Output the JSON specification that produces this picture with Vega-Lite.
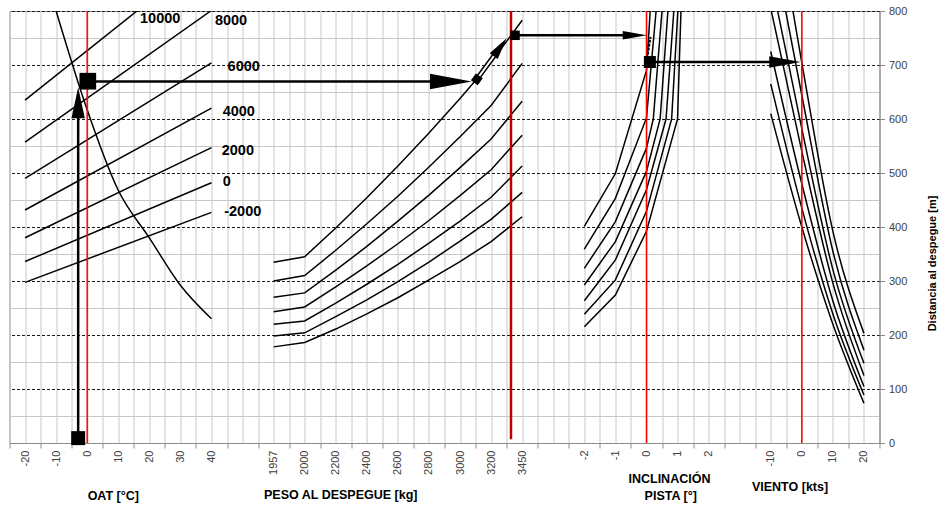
{
  "$schema": "https://vega.github.io/schema/vega-lite/v6.json",
  "width": 870,
  "height": 432,
  "autosize": {"type": "none"},
  "padding": {"left": 9.5, "top": 11, "right": 65.5, "bottom": 68},
  "background": "white",
  "config": {"view": {"stroke": "#8c8c8c", "strokeWidth": 1}, "font": "Liberation Sans"},
  "datasets": {
    "lin": [
      {"id": "a10000", "x": 0, "y": 635}, {"id": "a10000", "x": 6, "y": 910},
      {"id": "a8000", "x": 0, "y": 557}, {"id": "a8000", "x": 6, "y": 801},
      {"id": "a6000", "x": 0, "y": 490}, {"id": "a6000", "x": 6, "y": 704},
      {"id": "a4000", "x": 0, "y": 431.5}, {"id": "a4000", "x": 6, "y": 620},
      {"id": "a2000", "x": 0, "y": 380}, {"id": "a2000", "x": 6, "y": 547},
      {"id": "a0", "x": 0, "y": 336}, {"id": "a0", "x": 6, "y": 482},
      {"id": "am2000", "x": 0, "y": 297.5}, {"id": "am2000", "x": 6, "y": 427},
      {"id": "w1", "x": 8, "y": 334.6}, {"id": "w1", "x": 9, "y": 345}, {"id": "w1", "x": 10, "y": 398}, {"id": "w1", "x": 11, "y": 454}, {"id": "w1", "x": 12, "y": 513}, {"id": "w1", "x": 13, "y": 574}, {"id": "w1", "x": 14, "y": 638}, {"id": "w1", "x": 15, "y": 705}, {"id": "w1", "x": 16, "y": 783},
      {"id": "w2", "x": 8, "y": 300}, {"id": "w2", "x": 9, "y": 310}, {"id": "w2", "x": 10, "y": 357}, {"id": "w2", "x": 11, "y": 406}, {"id": "w2", "x": 12, "y": 457}, {"id": "w2", "x": 13, "y": 511}, {"id": "w2", "x": 14, "y": 567}, {"id": "w2", "x": 15, "y": 625}, {"id": "w2", "x": 16, "y": 703},
      {"id": "w3", "x": 8, "y": 270}, {"id": "w3", "x": 9, "y": 278}, {"id": "w3", "x": 10, "y": 320}, {"id": "w3", "x": 11, "y": 364}, {"id": "w3", "x": 12, "y": 411}, {"id": "w3", "x": 13, "y": 459}, {"id": "w3", "x": 14, "y": 510}, {"id": "w3", "x": 15, "y": 563}, {"id": "w3", "x": 16, "y": 633},
      {"id": "w4", "x": 8, "y": 243}, {"id": "w4", "x": 9, "y": 252}, {"id": "w4", "x": 10, "y": 289}, {"id": "w4", "x": 11, "y": 328}, {"id": "w4", "x": 12, "y": 369}, {"id": "w4", "x": 13, "y": 412}, {"id": "w4", "x": 14, "y": 458}, {"id": "w4", "x": 15, "y": 506}, {"id": "w4", "x": 16, "y": 570},
      {"id": "w5", "x": 8, "y": 220}, {"id": "w5", "x": 9, "y": 226}, {"id": "w5", "x": 10, "y": 259}, {"id": "w5", "x": 11, "y": 294}, {"id": "w5", "x": 12, "y": 331}, {"id": "w5", "x": 13, "y": 370}, {"id": "w5", "x": 14, "y": 411}, {"id": "w5", "x": 15, "y": 455}, {"id": "w5", "x": 16, "y": 513},
      {"id": "w6", "x": 8, "y": 198}, {"id": "w6", "x": 9, "y": 204}, {"id": "w6", "x": 10, "y": 234}, {"id": "w6", "x": 11, "y": 265}, {"id": "w6", "x": 12, "y": 299}, {"id": "w6", "x": 13, "y": 335}, {"id": "w6", "x": 14, "y": 374}, {"id": "w6", "x": 15, "y": 414}, {"id": "w6", "x": 16, "y": 464},
      {"id": "w7", "x": 8, "y": 178}, {"id": "w7", "x": 9, "y": 186}, {"id": "w7", "x": 10, "y": 211}, {"id": "w7", "x": 11, "y": 239}, {"id": "w7", "x": 12, "y": 269}, {"id": "w7", "x": 13, "y": 302}, {"id": "w7", "x": 14, "y": 336}, {"id": "w7", "x": 15, "y": 373}, {"id": "w7", "x": 16, "y": 419},
      {"id": "s1", "x": 18, "y": 401}, {"id": "s1", "x": 19, "y": 499}, {"id": "s1", "x": 20, "y": 690}, {"id": "s1", "x": 20.12, "y": 800},
      {"id": "s2", "x": 18, "y": 359}, {"id": "s2", "x": 19, "y": 453}, {"id": "s2", "x": 20, "y": 602}, {"id": "s2", "x": 20.31, "y": 800},
      {"id": "s3", "x": 18, "y": 323.5}, {"id": "s3", "x": 19, "y": 410}, {"id": "s3", "x": 20, "y": 546}, {"id": "s3", "x": 20.22, "y": 600}, {"id": "s3", "x": 20.5, "y": 800},
      {"id": "s4", "x": 18, "y": 292.6}, {"id": "s4", "x": 19, "y": 373}, {"id": "s4", "x": 20, "y": 503}, {"id": "s4", "x": 20.44, "y": 600}, {"id": "s4", "x": 20.69, "y": 800},
      {"id": "s5", "x": 18, "y": 263.5}, {"id": "s5", "x": 19, "y": 339}, {"id": "s5", "x": 20, "y": 469}, {"id": "s5", "x": 20.63, "y": 600}, {"id": "s5", "x": 20.88, "y": 800},
      {"id": "s6", "x": 18, "y": 238.3}, {"id": "s6", "x": 19, "y": 302}, {"id": "s6", "x": 20, "y": 429}, {"id": "s6", "x": 20.81, "y": 600}, {"id": "s6", "x": 21.01, "y": 800},
      {"id": "s7", "x": 18, "y": 215.4}, {"id": "s7", "x": 19, "y": 274}, {"id": "s7", "x": 20, "y": 392}, {"id": "s7", "x": 21, "y": 600}, {"id": "s7", "x": 21.11, "y": 800}
    ],
    "smooth": [
      {"id": "t", "x": 1, "y": 800}, {"id": "t", "x": 2, "y": 617}, {"id": "t", "x": 3, "y": 468}, {"id": "t", "x": 4, "y": 380}, {"id": "t", "x": 5, "y": 292}, {"id": "t", "x": 6, "y": 230},
      {"id": "v1", "x": 24, "y": 1040}, {"id": "v1", "x": 25, "y": 704}, {"id": "v1", "x": 26, "y": 392}, {"id": "v1", "x": 27, "y": 203},
      {"id": "v2", "x": 24, "y": 944}, {"id": "v2", "x": 25, "y": 644}, {"id": "v2", "x": 26, "y": 355}, {"id": "v2", "x": 27, "y": 172},
      {"id": "v3", "x": 24, "y": 862}, {"id": "v3", "x": 25, "y": 582}, {"id": "v3", "x": 26, "y": 321}, {"id": "v3", "x": 27, "y": 147.5},
      {"id": "v4", "x": 24, "y": 805}, {"id": "v4", "x": 25, "y": 540}, {"id": "v4", "x": 26, "y": 296}, {"id": "v4", "x": 27, "y": 125},
      {"id": "v5", "x": 24, "y": 725}, {"id": "v5", "x": 25, "y": 480}, {"id": "v5", "x": 26, "y": 263}, {"id": "v5", "x": 27, "y": 104.5},
      {"id": "v6", "x": 24, "y": 665}, {"id": "v6", "x": 25, "y": 435}, {"id": "v6", "x": 26, "y": 239}, {"id": "v6", "x": 27, "y": 89},
      {"id": "v7", "x": 24, "y": 610}, {"id": "v7", "x": 25, "y": 400}, {"id": "v7", "x": 26, "y": 220}, {"id": "v7", "x": 27, "y": 73.5}
    ],
    "red": [{"x": 2, "y": 0, "y2": 800}, {"x": 20, "y": 0, "y2": 800}, {"x": 25, "y": 0, "y2": 800}],
    "red2": [{"x": 15.64, "y": 7, "y2": 800}],
    "shafts": [
      {"id": "v", "x": 1.71, "y": 9}, {"id": "v", "x": 1.71, "y": 620},
      {"id": "h1", "x": 2.02, "y": 669.5}, {"id": "h1", "x": 13.6, "y": 669.5},
      {"id": "h2", "x": 15.77, "y": 755}, {"id": "h2", "x": 19.6, "y": 755},
      {"id": "h3", "x": 20.11, "y": 705.5}, {"id": "h3", "x": 24.7, "y": 705.5}
    ],
    "dshaft": [{"x": 14.54, "y": 673.5}, {"x": 15.12, "y": 719}],
    "conn": [{"x": 20.02, "y": 712}, {"x": 20.13, "y": 752}],
    "sqA": [{"x": 1.71, "y": 9}],
    "sqB": [{"x": 2.02, "y": 670}],
    "sqC": [{"x": 15.77, "y": 755}],
    "sqD": [{"x": 20.11, "y": 705.5}],
    "diamond": [{"x": 14.54, "y": 673.5}],
    "headB": [{"x": 14.376, "y": 669.5}],
    "headD": [{"x": 20.01, "y": 755}],
    "headE": [{"x": 24.96, "y": 705.5}],
    "uphead": [{"x": 1.71, "y": 659}],
    "slanthead": [{"x": 15.5, "y": 749.4}],
    "alt": [
      {"x": 3.7, "y": 786, "t": "10000"}, {"x": 6.11, "y": 781.5, "t": "8000"},
      {"x": 6.52, "y": 696.5, "t": "6000"}, {"x": 6.36, "y": 613, "t": "4000"},
      {"x": 6.33, "y": 541, "t": "2000"}, {"x": 6.36, "y": 482.5, "t": "0"},
      {"x": 6.41, "y": 428, "t": "-2000"}
    ],
    "titles": [
      {"x": 2.84, "y": -98, "t": "OAT [°C]"},
      {"x": 10.16, "y": -96, "t": "PESO AL DESPEGUE [kg]"},
      {"x": 20.74, "y": -67, "t": "INCLINACIÓN"},
      {"x": 20.78, "y": -99, "t": "PISTA [°]"},
      {"x": 24.62, "y": -82, "t": "VIENTO [kts]"}
    ]
  },
  "encoding": {
    "x": {
      "field": "x", "type": "quantitative",
      "scale": {"domain": [-0.5, 27.5], "nice": false, "zero": false},
      "axis": {
        "title": null,
        "values": [-0.5,0,0.5,1,1.5,2,2.5,3,3.5,4,4.5,5,5.5,6,6.5,7,7.5,8,8.5,9,9.5,10,10.5,11,11.5,12,12.5,13,13.5,14,14.5,15,15.5,16,16.5,17,17.5,18,18.5,19,19.5,20,20.5,21,21.5,22,22.5,23,23.5,24,24.5,25,25.5,26,26.5,27,27.5],
        "grid": true, "gridColor": "#c8c8c8", "gridWidth": 1,
        "domainColor": "#8c8c8c",
        "tickColor": "#8c8c8c", "tickSize": 5,
        "tickOpacity": {"condition": {"test": "datum.value % 1 !== 0", "value": 1}, "value": 0},
        "labelExpr": "datum.value % 1 === 0 ? ['-20','-10','0','10','20','30','40','','1957','2000','2200','2400','2600','2800','3000','3200','3450','','-2','-1','0','1','2','','-10','0','10','20'][datum.value] : ''",
        "labelAngle": 270, "labelFontSize": 11, "labelColor": "#404040", "labelPadding": 2,
        "labelOverlap": false, "labelFlush": false, "labelBound": false
      }
    },
    "y": {
      "field": "y", "type": "quantitative",
      "scale": {"domain": [0, 800], "nice": false, "zero": false},
      "axis": {
        "orient": "right",
        "values": [0,50,100,150,200,250,300,350,400,450,500,550,600,650,700,750,800],
        "title": "Distancia al despegue [m]",
        "titleFontSize": 11, "titleFontWeight": "bold", "titleColor": "black",
        "titleAngle": 270, "titleX": 52.5, "titleY": 252, "titleAlign": "center", "titleBaseline": "middle",
        "grid": true,
        "gridColor": {"condition": {"test": "datum.value % 100 === 0", "value": "#1a1a1a"}, "value": "#c8c8c8"},
        "gridDash": {"condition": {"test": "datum.value % 100 === 0", "value": [3, 2]}, "value": []},
        "labelExpr": "datum.value % 100 === 0 ? datum.label : ''",
        "tickOpacity": {"condition": {"test": "datum.value % 100 === 0", "value": 1}, "value": 0},
        "tickSize": 5, "tickColor": "#8c8c8c", "domainColor": "#8c8c8c",
        "labelFontSize": 11, "labelColor": "#404040", "labelPadding": 4, "labelFlush": false
      }
    }
  },
  "layer": [
    {
      "data": {"name": "lin"},
      "mark": {"type": "line", "color": "black", "strokeWidth": 1.5, "clip": true},
      "encoding": {"detail": {"field": "id"}}
    },
    {
      "data": {"name": "smooth"},
      "mark": {"type": "line", "color": "black", "strokeWidth": 1.5, "clip": true, "interpolate": "monotone"},
      "encoding": {"detail": {"field": "id"}}
    },
    {
      "data": {"name": "red"},
      "mark": {"type": "rule", "color": "#ff0000", "strokeWidth": 1.5},
      "encoding": {"y2": {"field": "y2"}}
    },
    {
      "data": {"name": "red2"},
      "mark": {"type": "rule", "color": "#c00000", "strokeWidth": 2.5},
      "encoding": {"y2": {"field": "y2"}}
    },
    {
      "data": {"name": "shafts"},
      "mark": {"type": "line", "color": "black", "strokeWidth": 2.5},
      "encoding": {"detail": {"field": "id"}}
    },
    {
      "data": {"name": "dshaft"},
      "mark": {"type": "line", "color": "black", "strokeWidth": 5},
      "encoding": {}
    },
    {
      "data": {"name": "dshaft"},
      "mark": {"type": "line", "color": "white", "strokeWidth": 2},
      "encoding": {}
    },
    {
      "data": {"name": "conn"},
      "mark": {"type": "line", "color": "black", "strokeWidth": 2, "strokeDash": [3, 1]},
      "encoding": {}
    },
    {
      "data": {"name": "sqA"},
      "mark": {"type": "point", "shape": "square", "filled": true, "color": "black", "opacity": 1, "size": 196}
    },
    {
      "data": {"name": "sqB"},
      "mark": {"type": "point", "shape": "square", "filled": true, "color": "black", "opacity": 1, "size": 279}
    },
    {
      "data": {"name": "sqC"},
      "mark": {"type": "point", "shape": "square", "filled": true, "color": "black", "opacity": 1, "size": 90}
    },
    {
      "data": {"name": "sqD"},
      "mark": {"type": "point", "shape": "square", "filled": true, "color": "black", "opacity": 1, "size": 144}
    },
    {
      "data": {"name": "diamond"},
      "mark": {"type": "point", "shape": "square", "filled": true, "color": "black", "opacity": 1, "size": 72, "angle": 36}
    },
    {
      "data": {"name": "headB"},
      "mark": {"type": "point", "shape": "M0,0L-2,-0.37L-2,0.37Z", "filled": true, "color": "black", "opacity": 1, "size": 1739}
    },
    {
      "data": {"name": "headD"},
      "mark": {"type": "point", "shape": "M0,0L-2,-0.36L-2,0.36Z", "filled": true, "color": "black", "opacity": 1, "size": 576}
    },
    {
      "data": {"name": "headE"},
      "mark": {"type": "point", "shape": "M0,0L-2,-0.37L-2,0.37Z", "filled": true, "color": "black", "opacity": 1, "size": 986}
    },
    {
      "data": {"name": "uphead"},
      "mark": {"type": "point", "shape": "M0,0L-2,-0.43L-2,0.43Z", "filled": true, "color": "black", "opacity": 1, "size": 961, "angle": -90}
    },
    {
      "data": {"name": "slanthead"},
      "mark": {"type": "point", "shape": "M0,0L-2,-0.45L-2,0.45Z", "filled": true, "color": "black", "opacity": 1, "size": 484, "angle": -54}
    },
    {
      "data": {"name": "alt"},
      "mark": {"type": "text", "align": "left", "baseline": "middle", "fontSize": 14.5, "fontWeight": "bold", "color": "black", "font": "Liberation Sans"},
      "encoding": {"text": {"field": "t"}}
    },
    {
      "data": {"name": "titles"},
      "mark": {"type": "text", "align": "center", "baseline": "middle", "fontSize": 12.5, "fontWeight": "bold", "color": "black", "font": "Liberation Sans"},
      "encoding": {"text": {"field": "t"}}
    }
  ]
}
